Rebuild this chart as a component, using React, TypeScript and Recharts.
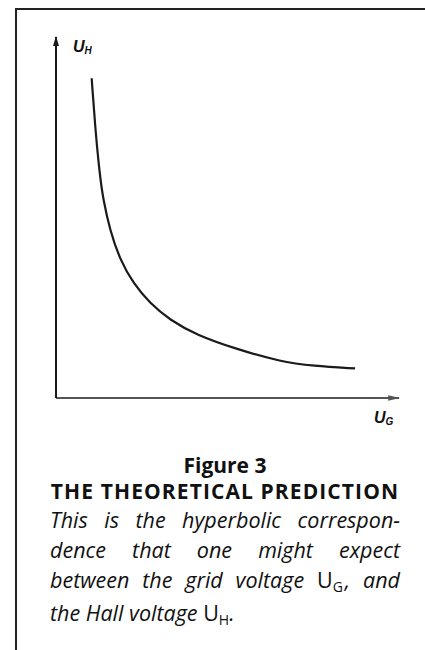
import { ComposedChart, Line, XAxis, YAxis, ReferenceLine } from 'recharts'

// curve (arbitrary units, origin at the axes corner)
const GRID_VOLTAGE = [1.04, 1.14, 1.28, 1.38, 1.57, 1.87, 2.25, 2.74, 3.32, 4.1, 5.27, 6.53, 7.5, 8.72]
const HALL_VOLTAGE = [9.3, 7.89, 6.44, 5.76, 4.89, 4.01, 3.34, 2.75, 2.27, 1.83, 1.42, 1.06, 0.93, 0.86]

const X_DOMAIN = [0, 10]
const Y_DOMAIN = [0, 10.5]

const FIGURE_LABEL = 'Figure 3'
const FIGURE_TITLE = 'THE THEORETICAL PREDICTION'

const data = GRID_VOLTAGE.map((x, i) => ({ x, y: HALL_VOLTAGE[i] }))

const FONT = '"Open Sans", Lato, sans-serif'
const AXIS_FONT = 'Arial, "Liberation Sans", sans-serif'

function ArrowDefs() {
  return (
    <svg width={0} height={0} style={{ position: 'absolute' }}>
      <defs>
        <marker
          id="arrowY"
          viewBox="0 0 10 10"
          refX={9}
          refY={5}
          markerWidth={5}
          markerHeight={3}
          orient="auto"
          markerUnits="strokeWidth"
          preserveAspectRatio="none"
        >
          <path d="M0,0 L10,5 L0,10 z" fill="#1a1a1a" />
        </marker>
        <marker
          id="arrowX"
          viewBox="0 0 10 10"
          refX={9}
          refY={5}
          markerWidth={6}
          markerHeight={2.8}
          orient="auto"
          markerUnits="strokeWidth"
          preserveAspectRatio="none"
        >
          <path d="M0,0 L10,5 L0,10 z" fill="#555" />
        </marker>
      </defs>
    </svg>
  )
}

const subStyle = (size: number, drop: number) => ({
  fontSize: size,
  verticalAlign: 'baseline',
  position: 'relative' as const,
  top: drop,
})

const justLine = { textAlign: 'justify' as const, textAlignLast: 'justify' as const }

export default function App() {
  return (
    <div
      style={{
        position: 'absolute',
        left: 0,
        top: 0,
        width: 425,
        height: 650,
        background: '#fff',
        overflow: 'hidden',
        fontFamily: FONT,
        color: '#111',
      }}
    >
      <ArrowDefs />
      {/* frame */}
      <div style={{ position: 'absolute', left: 15, top: 8, width: 410, height: 2, background: '#222' }} />
      <div style={{ position: 'absolute', left: 15, top: 8, width: 2, height: 642, background: '#222' }} />

      <div style={{ position: 'absolute', left: 0, top: 0 }}>
        <ComposedChart
          width={425}
          height={450}
          data={data}
          margin={{ top: 37, right: 26, bottom: 52, left: 56 }}
        >
          <XAxis type="number" dataKey="x" domain={X_DOMAIN} hide />
          <YAxis type="number" domain={Y_DOMAIN} hide />
          <ReferenceLine
            segment={[
              { x: X_DOMAIN[0], y: Y_DOMAIN[0] },
              { x: X_DOMAIN[1], y: Y_DOMAIN[0] },
            ]}
            ifOverflow="visible"
            stroke="#555"
            strokeWidth={2}
            markerEnd="url(#arrowX)"
          />
          <ReferenceLine
            segment={[
              { x: X_DOMAIN[0], y: Y_DOMAIN[0] },
              { x: X_DOMAIN[0], y: Y_DOMAIN[1] },
            ]}
            ifOverflow="visible"
            stroke="#1a1a1a"
            strokeWidth={2}
            markerEnd="url(#arrowY)"
          />
          <Line
            type="basis"
            dataKey="y"
            stroke="#1a1a1a"
            strokeWidth={2.2}
            dot={false}
            isAnimationActive={false}
          />
        </ComposedChart>
      </div>

      {/* axis names */}
      <div
        style={{
          position: 'absolute',
          left: 73,
          top: 38,
          fontSize: 16,
          fontWeight: 700,
          fontStyle: 'italic',
          fontFamily: AXIS_FONT,
        }}
      >
        U<sub style={subStyle(10, 2)}>H</sub>
      </div>
      <div
        style={{
          position: 'absolute',
          left: 374,
          top: 409,
          fontSize: 16,
          fontWeight: 700,
          fontStyle: 'italic',
          fontFamily: AXIS_FONT,
        }}
      >
        U<sub style={subStyle(10, 2)}>G</sub>
      </div>

      {/* caption */}
      <div style={{ position: 'absolute', left: 50, top: 452, width: 350 }}>
        <div style={{ textAlign: 'center', fontWeight: 700, fontSize: 21, lineHeight: '26px' }}>
          {FIGURE_LABEL}
        </div>
        <div
          style={{
            textAlign: 'center',
            fontWeight: 700,
            fontSize: 21,
            lineHeight: '27px',
            letterSpacing: 1.1,
            whiteSpace: 'nowrap',
          }}
        >
          {FIGURE_TITLE}
        </div>
        <div style={{ fontStyle: 'italic', fontSize: 21.5, lineHeight: '30px' }}>
          <div style={justLine}>This is the hyperbolic correspon-</div>
          <div style={justLine}>dence that one might expect</div>
          <div style={justLine}>
            between the grid voltage{' '}
            <span style={{ fontStyle: 'normal' }}>
              U<sub style={{ ...subStyle(14, 4), marginRight: 2 }}>G</sub>
            </span>
            , and
          </div>
          <div>
            the Hall voltage{' '}
            <span style={{ fontStyle: 'normal' }}>
              U<sub style={subStyle(14, 4)}>H</sub>
            </span>
            .
          </div>
        </div>
      </div>
    </div>
  )
}
